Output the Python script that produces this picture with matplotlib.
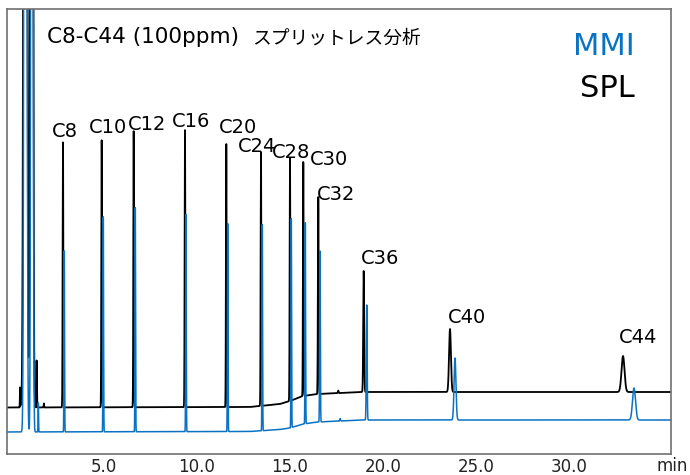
import numpy as np
import matplotlib
matplotlib.use("Agg")
from matplotlib import pyplot as plt

plt.rcParams['font.family'] = ['DejaVu Sans', 'Noto Sans CJK JP']

BLUE = "#0a72c2"

# n-alkane peaks (retention time in min, height above baseline)
labels = ["C8", "C10", "C12", "C16", "C20", "C24", "C28", "C30", "C32", "C36", "C40", "C44"]
spl_rt = [2.833, 4.909, 6.625, 9.378, 11.594, 13.455, 15.011, 15.724, 16.529, 18.965, 23.594, 32.876]
spl_h = [265, 267, 276, 277, 263, 254, 243, 234, 197, 121, 63, 36]
spl_w = [0.018, 0.018, 0.018, 0.018, 0.018, 0.018, 0.018, 0.018, 0.02, 0.025, 0.05, 0.08]
mmi_rt = [2.902, 4.995, 6.711, 9.431, 11.668, 13.525, 15.080, 15.832, 16.620, 19.126, 23.863, 33.466]
mmi_h = [181, 215, 224, 217, 208, 206, 209, 201, 171, 115, 62, 32]
mmi_w = [0.015, 0.015, 0.015, 0.015, 0.015, 0.015, 0.015, 0.015, 0.018, 0.022, 0.05, 0.08]

# solvent and small early peaks
spl_sol_rt = [0.53, 0.58, 0.81, 1.15, 1.42, 1.81, 17.6]
spl_sol_h = [20, 14, 3000, 3000, 47, 4, 2.5]
spl_sol_w = [0.01, 0.01, 0.06, 0.05, 0.012, 0.01, 0.02]
mmi_sol_rt = [0.82, 1.17, 1.51, 17.7]
mmi_sol_h = [3000, 3000, 29, 2.5]
mmi_sol_w = [0.05, 0.04, 0.012, 0.02]

# baselines (drift with the temperature program)
base_t = [-0.2, 12.87, 14.47, 15.01, 15.71, 16.51, 18.93, 35.5]
spl_base = [46.5, 47, 50, 53, 58, 60, 62, 62]
mmi_base = [22, 22.5, 24.5, 26, 30, 32, 34, 34]

# label offsets in pixels (dx, dy) from peak apex
label_dx = [1.5, 6, 13, 6, 12, -4, 1, 26, 18, 16, 17, 15]
label_dy = [5, 7, 1, 3, 11, 0, 0, -3, -3, 7, 6, 13]

t = np.linspace(-0.2, 35.5, 40000)


def trace(base, rts, hs, ws):
    y = np.interp(t, base_t, base)
    for rt, h, w in zip(rts, hs, ws):
        y = y + h * np.exp(-0.5 * ((t - rt) / w) ** 2)
    return y


spl = trace(spl_base, spl_rt + spl_sol_rt, spl_h + spl_sol_h, spl_w + spl_sol_w)
mmi = trace(mmi_base, mmi_rt + mmi_sol_rt, mmi_h + mmi_sol_h, mmi_w + mmi_sol_w)

fig = plt.figure(figsize=(6.9, 4.75), dpi=100)
ax = fig.add_axes([7 / 690, 21 / 475, 664 / 690, 445 / 475])
ax.plot(t, spl, color="black", lw=1.3)
ax.plot(t, mmi, color=BLUE, lw=1.1)
ax.set_xlim(-0.17, 35.45)
ax.set_ylim(0, 445)

for i, lab in enumerate(labels):
    top = np.interp(spl_rt[i], base_t, spl_base) + spl_h[i]
    ax.annotate(lab, (spl_rt[i], top), xytext=(label_dx[i], label_dy[i]),
                textcoords="offset pixels", ha="center", va="baseline", fontsize=14)

ax.set_xticks([5, 10, 15, 20, 25, 30])
ax.set_xticklabels(["5.0", "10.0", "15.0", "20.0", "25.0", "30.0"])
ax.tick_params(axis="x", length=0, pad=3, labelsize=12, labelcolor="#222222")
ax.set_yticks([])
for s in ax.spines.values():
    s.set_color("#707070")
    s.set_linewidth(1.2)

fig.text(672 / 690, 1 - 471 / 475, "min", ha="center", va="baseline", fontsize=12, color="#222222")
fig.text(47 / 690, 1 - 43 / 475, "C8-C44 (100ppm)", ha="left", va="baseline", fontsize=15.5)
fig.text(252 / 690, 1 - 44 / 475, "スプリットレス分析", ha="left", va="baseline", fontsize=13.5,
         family=["Noto Sans CJK JP", "DejaVu Sans"])
fig.text(635 / 690, 1 - 55 / 475, "MMI", ha="right", va="baseline", fontsize=22, color=BLUE)
fig.text(635 / 690, 1 - 97 / 475, "SPL", ha="right", va="baseline", fontsize=22, color="black")

fig.savefig("out.png", dpi=100)
